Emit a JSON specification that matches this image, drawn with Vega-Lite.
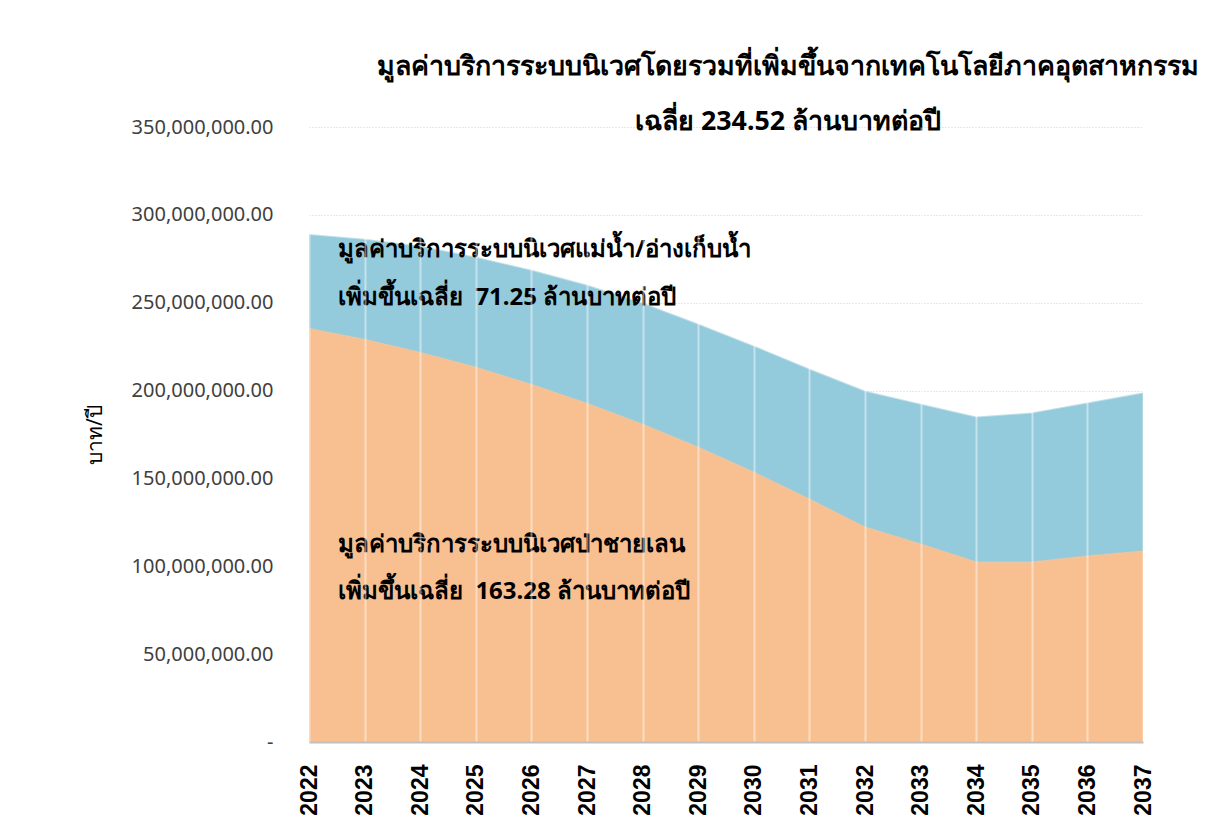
{
  "$schema": "https://vega.github.io/schema/vega-lite/v6.json",
  "width": 834,
  "height": 615,
  "autosize": {"type": "none"},
  "padding": {"left": 309, "top": 127, "right": 63, "bottom": 95},
  "background": "white",
  "config": {
    "view": {"stroke": null},
    "font": "Noto Sans"
  },
  "title": {
    "text": ["มูลค่าบริการระบบนิเวศโดยรวมที่เพิ่มขึ้นจากเทคโนโลยีภาคอุตสาหกรรม", "เฉลี่ย 234.52 ล้านบาทต่อปี"],
    "anchor": "middle",
    "dx": 62,
    "offset": -19,
    "fontSize": 26.8,
    "fontWeight": "bold",
    "color": "#000000",
    "lineHeight": 55,
    "font": "Noto Sans"
  },
  "datasets": {
    "areas": [
      {"year": 2022, "series": "mangrove", "order": 1, "value": 235200000},
      {"year": 2023, "series": "mangrove", "order": 1, "value": 229000000},
      {"year": 2024, "series": "mangrove", "order": 1, "value": 221600000},
      {"year": 2025, "series": "mangrove", "order": 1, "value": 213100000},
      {"year": 2026, "series": "mangrove", "order": 1, "value": 203400000},
      {"year": 2027, "series": "mangrove", "order": 1, "value": 192600000},
      {"year": 2028, "series": "mangrove", "order": 1, "value": 180700000},
      {"year": 2029, "series": "mangrove", "order": 1, "value": 167600000},
      {"year": 2030, "series": "mangrove", "order": 1, "value": 153400000},
      {"year": 2031, "series": "mangrove", "order": 1, "value": 138100000},
      {"year": 2032, "series": "mangrove", "order": 1, "value": 122200000},
      {"year": 2033, "series": "mangrove", "order": 1, "value": 112500000},
      {"year": 2034, "series": "mangrove", "order": 1, "value": 102300000},
      {"year": 2035, "series": "mangrove", "order": 1, "value": 102300000},
      {"year": 2036, "series": "mangrove", "order": 1, "value": 105700000},
      {"year": 2037, "series": "mangrove", "order": 1, "value": 108500000},
      {"year": 2022, "series": "river", "order": 2, "value": 53400000},
      {"year": 2023, "series": "river", "order": 2, "value": 56800000},
      {"year": 2024, "series": "river", "order": 2, "value": 60200000},
      {"year": 2025, "series": "river", "order": 2, "value": 62500000},
      {"year": 2026, "series": "river", "order": 2, "value": 64800000},
      {"year": 2027, "series": "river", "order": 2, "value": 67100000},
      {"year": 2028, "series": "river", "order": 2, "value": 68700000},
      {"year": 2029, "series": "river", "order": 2, "value": 69900000},
      {"year": 2030, "series": "river", "order": 2, "value": 71600000},
      {"year": 2031, "series": "river", "order": 2, "value": 73800000},
      {"year": 2032, "series": "river", "order": 2, "value": 77200000},
      {"year": 2033, "series": "river", "order": 2, "value": 79500000},
      {"year": 2034, "series": "river", "order": 2, "value": 82400000},
      {"year": 2035, "series": "river", "order": 2, "value": 84600000},
      {"year": 2036, "series": "river", "order": 2, "value": 86900000},
      {"year": 2037, "series": "river", "order": 2, "value": 89800000}
    ],
    "notes": [
      {"x": 2022.52, "y": 280000000, "label": "มูลค่าบริการระบบนิเวศแม่น้ำ/อ่างเก็บน้ำ"},
      {"x": 2022.52, "y": 252700000, "label": "เพิ่มขึ้นเฉลี่ย\u00a0\u00a071.25 ล้านบาทต่อปี"},
      {"x": 2022.52, "y": 112100000, "label": "มูลค่าบริการระบบนิเวศป่าชายเลน"},
      {"x": 2022.52, "y": 85400000, "label": "เพิ่มขึ้นเฉลี่ย\u00a0\u00a0163.28 ล้านบาทต่อปี"}
    ]
  },
  "layer": [
    {
      "data": {"name": "areas"},
      "mark": {
        "type": "area",
        "opacity": 1,
        "line": {"color": "#ffffff", "strokeWidth": 2, "opacity": 0.6}
      },
      "encoding": {
        "x": {
          "field": "year",
          "type": "quantitative",
          "scale": {"domain": [2022, 2037], "nice": false, "zero": false},
          "axis": {
            "values": [2022, 2023, 2024, 2025, 2026, 2027, 2028, 2029, 2030, 2031, 2032, 2033, 2034, 2035, 2036, 2037],
            "format": "d",
            "title": null,
            "labelAngle": -90,
            "labelAlign": "right",
            "labelBaseline": "middle",
            "labelFontSize": 23,
            "labelFontWeight": "bold",
            "labelColor": "#000000",
            "labelPadding": 22,
            "labelFont": "Liberation Sans",
            "ticks": false,
            "domainColor": "#bfbfbf",
            "domainWidth": 2,
            "grid": true,
            "gridColor": "#ffffff",
            "gridOpacity": 0.45,
            "gridWidth": 2,
            "zindex": 1
          }
        },
        "y": {
          "field": "value",
          "type": "quantitative",
          "stack": "zero",
          "scale": {"domain": [0, 350000000], "nice": false},
          "axis": {
            "values": [0, 50000000, 100000000, 150000000, 200000000, 250000000, 300000000, 350000000],
            "labelExpr": "datum.value == 0 ? '-\u00a0\u00a0\u00a0\u00a0\u00a0\u00a0\u00a0' : format(datum.value, ',.2f')",
            "title": "บาท/ปี",
            "titleFontSize": 21,
            "titleFontWeight": "normal",
            "titleColor": "#000000",
            "titlePadding": 26,
            "labelFontSize": 20,
            "labelColor": "#404040",
            "labelPadding": 36,
            "ticks": false,
            "domain": false,
            "grid": true,
            "gridColor": "#d0d0d0",
            "gridDash": [1, 2],
            "gridWidth": 1
          }
        },
        "color": {
          "field": "series",
          "type": "nominal",
          "scale": {"domain": ["mangrove", "river"], "range": ["#f8c091", "#94cbdc"]},
          "legend": null
        },
        "order": {"field": "order", "type": "quantitative"}
      }
    },
    {
      "data": {"name": "notes"},
      "mark": {
        "type": "text",
        "align": "left",
        "baseline": "middle",
        "fontSize": 24,
        "fontWeight": "bold",
        "color": "#000000"
      },
      "encoding": {
        "x": {"field": "x", "type": "quantitative"},
        "y": {"field": "y", "type": "quantitative"},
        "text": {"field": "label"}
      }
    }
  ]
}
